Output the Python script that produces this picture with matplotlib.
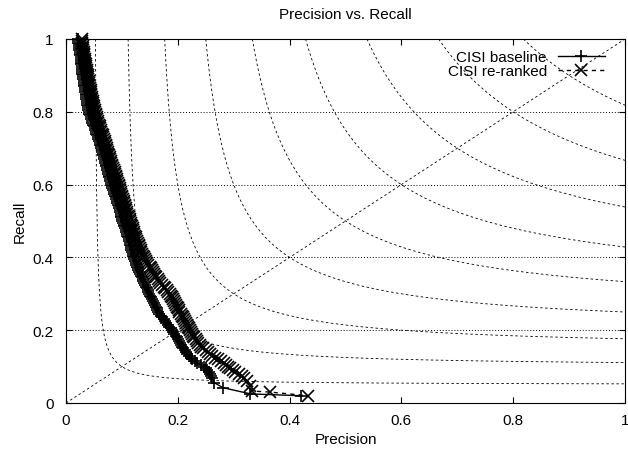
import matplotlib
matplotlib.use("Agg")
import matplotlib.pyplot as plt
import numpy as np

plt.rcParams['font.family'] = ['Liberation Sans', 'DejaVu Sans']

# ---- data ----
# recall levels of the dense upper part of both curves
recall_fine = [
    1.000, 0.995, 0.990, 0.985, 0.980, 0.975, 0.970, 0.965, 0.960, 0.955,
    0.950, 0.945, 0.940, 0.935, 0.930, 0.925, 0.920, 0.915, 0.910, 0.905,
    0.900, 0.895, 0.890, 0.885, 0.880, 0.875, 0.870, 0.865, 0.860, 0.855,
    0.850, 0.845, 0.840, 0.835, 0.830, 0.825, 0.820, 0.815, 0.810, 0.805,
    0.800, 0.795, 0.790, 0.785, 0.780, 0.775, 0.770, 0.765, 0.760, 0.755,
    0.750, 0.745, 0.740, 0.735, 0.730, 0.725, 0.720, 0.715, 0.710, 0.705,
    0.700, 0.695, 0.690, 0.685, 0.680, 0.675, 0.670, 0.665, 0.660, 0.655,
    0.650, 0.645, 0.640, 0.635, 0.630, 0.625, 0.620, 0.615, 0.610, 0.605,
    0.600, 0.595, 0.590, 0.585, 0.580, 0.575, 0.570, 0.565, 0.560, 0.555,
    0.550, 0.545, 0.540, 0.535, 0.530, 0.525, 0.520, 0.515, 0.510, 0.505,
    0.500, 0.495, 0.490, 0.485, 0.480, 0.475, 0.470, 0.465, 0.460, 0.455,
    0.450, 0.445, 0.440, 0.435, 0.430, 0.425, 0.420, 0.415, 0.410, 0.405,
    0.400, 0.395, 0.390, 0.385, 0.380, 0.375, 0.370, 0.365, 0.360, 0.355,
    0.350, 0.345, 0.340, 0.335, 0.330, 0.325, 0.320, 0.315, 0.310, 0.305,
    0.300, 0.295, 0.290, 0.285, 0.280, 0.275, 0.270, 0.265, 0.260, 0.255,
    0.250, 0.245, 0.240, 0.235, 0.230, 0.225, 0.220, 0.215, 0.210, 0.205,
    0.200, 0.195, 0.190, 0.185, 0.180, 0.175, 0.170, 0.165, 0.160, 0.155,
    0.150]

baseline_recall = recall_fine + [
    0.145, 0.14, 0.135, 0.13, 0.125, 0.12, 0.115, 0.11, 0.105, 0.10,
    0.095, 0.09, 0.085, 0.08, 0.075, 0.07, 0.056, 0.042, 0.025, 0.02]
baseline_precision = [
    0.0215, 0.0218, 0.022, 0.0225, 0.023, 0.0235, 0.024, 0.0245, 0.025, 0.0255,
    0.026, 0.0265, 0.027, 0.0272, 0.0275, 0.0278, 0.028, 0.0285, 0.029, 0.0295,
    0.030, 0.0305, 0.031, 0.0315, 0.032, 0.0325, 0.033, 0.0335, 0.034, 0.0345,
    0.035, 0.0355, 0.036, 0.0365, 0.037, 0.0375, 0.038, 0.0388, 0.0395, 0.040,
    0.041, 0.042, 0.043, 0.044, 0.045, 0.046, 0.047, 0.0485, 0.050, 0.051,
    0.052, 0.053, 0.054, 0.0555, 0.057, 0.058, 0.059, 0.060, 0.061, 0.062,
    0.063, 0.064, 0.065, 0.066, 0.067, 0.0675, 0.068, 0.069, 0.070, 0.071,
    0.072, 0.073, 0.074, 0.075, 0.076, 0.0765, 0.077, 0.078, 0.079, 0.080,
    0.081, 0.082, 0.083, 0.084, 0.085, 0.0865, 0.088, 0.089, 0.090, 0.091,
    0.092, 0.093, 0.094, 0.095, 0.096, 0.097, 0.098, 0.0985, 0.099, 0.100,
    0.101, 0.102, 0.103, 0.1045, 0.106, 0.107, 0.108, 0.109, 0.110, 0.111,
    0.112, 0.113, 0.114, 0.115, 0.116, 0.1165, 0.117, 0.118, 0.119, 0.120,
    0.121, 0.122, 0.123, 0.1245, 0.126, 0.127, 0.128, 0.1295, 0.131, 0.1325,
    0.134, 0.1355, 0.137, 0.1385, 0.140, 0.1415, 0.143, 0.1445, 0.146, 0.1475,
    0.149, 0.1505, 0.152, 0.154, 0.156, 0.1575, 0.159, 0.1605, 0.162, 0.1635,
    0.165, 0.167, 0.1695, 0.172, 0.1745, 0.177, 0.1795, 0.182, 0.1845, 0.187,
    0.190, 0.192, 0.194, 0.196, 0.198, 0.200, 0.202, 0.204, 0.206, 0.208,
    0.210,
    0.212, 0.2145, 0.217, 0.220, 0.223, 0.226, 0.230, 0.235, 0.241, 0.246,
    0.250, 0.253, 0.255, 0.257, 0.259, 0.261, 0.265, 0.281, 0.330, 0.420]

reranked_recall = recall_fine + [
    0.145, 0.14, 0.135, 0.13, 0.125, 0.12, 0.115, 0.11, 0.105, 0.10,
    0.095, 0.09, 0.085, 0.08, 0.075, 0.07, 0.06, 0.047, 0.033, 0.03, 0.02]
reranked_precision = [
    0.028, 0.0285, 0.029, 0.0295, 0.030, 0.0305, 0.031, 0.0315, 0.032, 0.0325,
    0.033, 0.0335, 0.034, 0.0345, 0.035, 0.0355, 0.036, 0.0368, 0.0375, 0.0383,
    0.039, 0.0395, 0.040, 0.0405, 0.041, 0.0415, 0.042, 0.043, 0.044, 0.0445,
    0.045, 0.0455, 0.046, 0.047, 0.048, 0.0485, 0.049, 0.0495, 0.050, 0.051,
    0.052, 0.053, 0.054, 0.055, 0.056, 0.057, 0.058, 0.059, 0.060, 0.061,
    0.062, 0.0635, 0.065, 0.066, 0.067, 0.068, 0.069, 0.070, 0.071, 0.072,
    0.073, 0.074, 0.075, 0.076, 0.077, 0.078, 0.079, 0.080, 0.081, 0.082,
    0.083, 0.0845, 0.086, 0.087, 0.088, 0.089, 0.090, 0.091, 0.092, 0.093,
    0.094, 0.095, 0.096, 0.097, 0.098, 0.099, 0.100, 0.101, 0.102, 0.103,
    0.104, 0.105, 0.106, 0.107, 0.108, 0.109, 0.110, 0.1115, 0.113, 0.114,
    0.115, 0.116, 0.117, 0.118, 0.119, 0.120, 0.121, 0.1225, 0.124, 0.125,
    0.126, 0.1275, 0.129, 0.130, 0.131, 0.1325, 0.134, 0.135, 0.136, 0.138,
    0.140, 0.1415, 0.1435, 0.1455, 0.1475, 0.1495, 0.1515, 0.1535, 0.1555, 0.1575,
    0.1595, 0.1615, 0.164, 0.1665, 0.169, 0.172, 0.1745, 0.1775, 0.180, 0.183,
    0.1855, 0.188, 0.190, 0.1918, 0.1935, 0.195, 0.1965, 0.198, 0.1995, 0.2013,
    0.203, 0.205, 0.207, 0.209, 0.211, 0.213, 0.215, 0.217, 0.219, 0.2205,
    0.222, 0.2238, 0.2255, 0.2275, 0.2295, 0.232, 0.2345, 0.237, 0.2395, 0.242,
    0.245,
    0.250, 0.254, 0.258, 0.262, 0.267, 0.272, 0.277, 0.282, 0.286, 0.289,
    0.294, 0.298, 0.303, 0.309, 0.314, 0.318, 0.323, 0.329, 0.332, 0.365, 0.433]

f_levels = [0.1, 0.2, 0.3, 0.4, 0.5, 0.6, 0.7, 0.8, 0.9]
tick_values = [0, 0.2, 0.4, 0.6, 0.8, 1]
tick_labels = ["0", "0.2", "0.4", "0.6", "0.8", "1"]

# ---- figure ----
W, H = 628, 452
fig = plt.figure(figsize=(W / 100, H / 100), dpi=100)
left, right, top, bottom = 66, 625, 40, 404
ax = fig.add_axes([left / W, (H - bottom) / H, (right - left) / W, (bottom - top) / H])

dash_style = (0, (3, 3))

# F-measure iso-curves
for f in f_levels:
    p = np.linspace(f / (2 - f), 1, 500)
    r = f * p / (2 * p - f)
    ax.plot(p, r, color='black', lw=0.6, linestyle=dash_style, zorder=1)
ax.axline((0, 0), slope=1, color='black', lw=0.6, linestyle=dash_style, zorder=1)

ax.plot(baseline_precision, baseline_recall, color='black', lw=1.0, linestyle='-',
        marker='+', markersize=9, markeredgewidth=1.2, label='CISI baseline',
        zorder=3, clip_on=False)
ax.plot(reranked_precision, reranked_recall, color='black', lw=1.0, linestyle=(0, (3, 3)),
        marker='x', markersize=8, markeredgewidth=1.2, label='CISI re-ranked',
        zorder=3, clip_on=False)

ax.set_xlim(0, 1)
ax.set_ylim(0, 1)
ax.set_xticks(tick_values)
ax.set_xticklabels(tick_labels)
ax.set_yticks(tick_values)
ax.set_yticklabels(tick_labels)
ax.tick_params(direction='in', top=True, right=True, length=4.5, width=0.8,
               labelsize=11, colors='black')
ax.tick_params(axis='x', pad=7)
ax.tick_params(axis='y', pad=9)
for s in ax.spines.values():
    s.set_linewidth(0.8)

ax.yaxis.grid(True, linestyle=(0, (1, 2)), linewidth=0.7, color='black')
ax.xaxis.grid(False)
ax.set_axisbelow(False)

ax.set_xlabel('Precision', fontsize=11, labelpad=4)
ax.set_ylabel('Recall', fontsize=11, labelpad=4)
ax.set_title('Precision vs. Recall', fontsize=11, pad=15)

ax.legend(loc='upper right', bbox_to_anchor=(0.964, 0.97), borderaxespad=0, borderpad=0,
          frameon=False, markerfirst=False, handlelength=3.1, handletextpad=0.7,
          labelspacing=0.0, fontsize=11, numpoints=1)

fig.savefig('out.png', dpi=100)
